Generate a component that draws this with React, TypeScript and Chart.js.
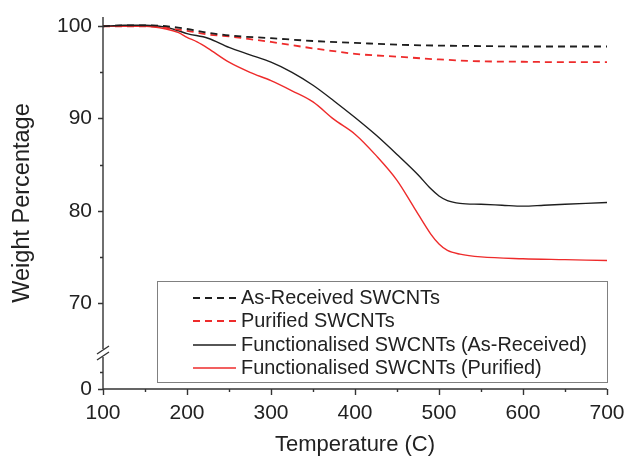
import { useEffect, useRef } from "react";
import { Chart, registerables } from "chart.js";

Chart.register(...registerables);

// ---- data (temperature in C, weight %) ----
const asReceivedT = [100, 125, 150, 175, 200, 225, 250, 300, 350, 400, 450, 500, 550, 600, 650, 700];
const asReceivedW = [100.0, 100.1, 100.1, 100.0, 99.7, 99.3, 99.0, 98.7, 98.4, 98.2, 98.0, 97.9, 97.85, 97.8, 97.8, 97.8];

const purifiedT = [100, 150, 200, 225, 250, 275, 300, 350, 375, 400, 450, 500, 550, 600, 650, 700];
const purifiedW = [100.0, 100.0, 99.5, 99.1, 98.9, 98.6, 98.3, 97.6, 97.3, 97.0, 96.7, 96.4, 96.2, 96.15, 96.1, 96.1];

const funcAsReceivedT = [100, 125, 150, 175, 190, 200, 225, 250, 275, 300, 325, 350, 375, 400, 425, 450, 475, 490, 500, 510, 525, 550, 575, 600, 625, 650, 675, 700];
const funcAsReceivedW = [100.0, 100.1, 100.1, 99.9, 99.5, 99.2, 98.7, 97.7, 96.9, 96.1, 95.0, 93.6, 91.9, 90.1, 88.2, 86.1, 83.9, 82.4, 81.6, 81.1, 80.8, 80.7, 80.6, 80.5, 80.6, 80.7, 80.8, 80.9];

const funcPurifiedT = [100, 125, 150, 175, 190, 200, 212, 225, 250, 275, 300, 325, 350, 375, 400, 425, 450, 470, 490, 500, 510, 525, 550, 600, 650, 700];
const funcPurifiedW = [100.0, 100.0, 100.0, 99.7, 99.3, 98.8, 98.3, 97.6, 96.1, 95.0, 94.1, 93.0, 91.8, 89.9, 88.3, 86.0, 83.3, 80.4, 77.5, 76.4, 75.7, 75.3, 75.0, 74.8, 74.7, 74.6];

const seriesLabels = [
  "As-Received SWCNTs",
  "Purified SWCNTs",
  "Functionalised SWCNTs (As-Received)",
  "Functionalised SWCNTs (Purified)",
];

// broken y axis: the bottom of the axis stands for 0
const Y_BOTTOM = 60.68;
const Y_TOP = 101;
const yTickValues = [Y_BOTTOM, 70, 80, 90, 100];
const yTickLabels = ["0", "70", "80", "90", "100"];
const yMinorValues = [62.5, 75, 85, 95];
const xMinorValues = [150, 250, 350, 450, 550, 650];

const BLACK = "#1e1e1e";
const RED = "#ee2b2b";
const FONT = "'Liberation Sans', Arial, sans-serif";

const pts = (t: number[], w: number[]) => t.map((x, i) => ({ x, y: w[i] }));

const decorPlugin = {
  id: "decor",
  afterDraw(chart: any) {
    const ctx = chart.ctx as CanvasRenderingContext2D;
    const { left, right, top, bottom } = chart.chartArea;
    const xs = chart.scales.x;
    const ys = chart.scales.y;
    ctx.save();
    ctx.strokeStyle = "#333";
    ctx.lineWidth = 1.4;
    const by = 353;
    ctx.beginPath();
    ctx.moveTo(left, top);
    ctx.lineTo(left, by - 4);
    ctx.moveTo(left, by + 4);
    ctx.lineTo(left, bottom);
    ctx.moveTo(left, bottom);
    ctx.lineTo(right, bottom);
    ctx.stroke();
    ctx.beginPath();
    yTickValues.forEach((v) => {
      const y = Math.round(ys.getPixelForValue(v)) + 0.5;
      ctx.moveTo(left - 5, y);
      ctx.lineTo(left, y);
    });
    yMinorValues.forEach((v) => {
      const y = Math.round(ys.getPixelForValue(v)) + 0.5;
      ctx.moveTo(left - 3, y);
      ctx.lineTo(left, y);
    });
    xs.ticks.forEach((t: any) => {
      const x = Math.round(xs.getPixelForValue(t.value)) + 0.5;
      ctx.moveTo(x, bottom);
      ctx.lineTo(x, bottom + 6);
    });
    xMinorValues.forEach((v) => {
      const x = Math.round(xs.getPixelForValue(v)) + 0.5;
      ctx.moveTo(x, bottom);
      ctx.lineTo(x, bottom + 3);
    });
    ctx.stroke();
    ctx.beginPath();
    ctx.moveTo(left - 6, by + 1);
    ctx.lineTo(left + 6, by - 7);
    ctx.moveTo(left - 6, by + 7);
    ctx.lineTo(left + 6, by - 1);
    ctx.stroke();

    const lx = 157, ly = 281, lw = right - 157, lh = 101;
    ctx.fillStyle = "#fff";
    ctx.fillRect(lx, ly, lw, lh);
    ctx.strokeStyle = "#808080";
    ctx.lineWidth = 1;
    ctx.strokeRect(lx + 0.5, ly + 0.5, lw, lh);
    const rows = [298, 321, 345, 368];
    chart.data.datasets.forEach((ds: any, i: number) => {
      const y = rows[i];
      ctx.beginPath();
      ctx.strokeStyle = ds.borderColor;
      ctx.lineWidth = ds.borderWidth;
      ctx.setLineDash(ds.borderDash || []);
      ctx.moveTo(193, y);
      ctx.lineTo(236, y);
      ctx.stroke();
      ctx.setLineDash([]);
      ctx.fillStyle = "#222";
      ctx.font = `19.9px ${FONT}`;
      ctx.textBaseline = "middle";
      ctx.textAlign = "left";
      ctx.fillText(ds.label, 241, y + 1);
    });
    ctx.restore();
  },
};

export default function App() {
  const ref = useRef<HTMLCanvasElement>(null);
  useEffect(() => {
    if (!ref.current) return;
    const chart = new Chart(ref.current, {
      type: "line",
      data: {
        datasets: [
          {
            label: seriesLabels[0],
            data: pts(asReceivedT, asReceivedW),
            borderColor: BLACK,
            borderWidth: 1.8,
            borderDash: [7, 5],
          },
          {
            label: seriesLabels[1],
            data: pts(purifiedT, purifiedW),
            borderColor: RED,
            borderWidth: 1.8,
            borderDash: [7, 5],
          },
          {
            label: seriesLabels[2],
            data: pts(funcAsReceivedT, funcAsReceivedW),
            borderColor: BLACK,
            borderWidth: 1.4,
          },
          {
            label: seriesLabels[3],
            data: pts(funcPurifiedT, funcPurifiedW),
            borderColor: RED,
            borderWidth: 1.4,
          },
        ] as any,
      },
      options: {
        animation: false,
        responsive: false,
        events: [],
        layout: { padding: { top: 17, right: 20, left: 0, bottom: 0 } },
        elements: {
          point: { radius: 0 },
          line: { cubicInterpolationMode: "monotone", fill: false },
        },
        plugins: {
          legend: { display: false },
          tooltip: { enabled: false },
        },
        scales: {
          x: {
            type: "linear",
            min: 100,
            max: 700,
            grid: { display: false, drawTicks: true, tickLength: 6 },
            border: { display: false },
            ticks: {
              stepSize: 100,
              padding: 6,
              color: "#222",
              font: { family: FONT, size: 21 },
            },
            title: {
              display: true,
              text: "Temperature (C)",
              color: "#222",
              font: { family: FONT, size: 22 },
              padding: { top: 0, bottom: 2 },
            },
            afterFit: (s: any) => {
              s.height = 71;
              s.paddingLeft = 0;
              s.paddingRight = 0;
            },
          },
          y: {
            type: "linear",
            min: Y_BOTTOM,
            max: Y_TOP,
            grid: { display: false, drawTicks: true, tickLength: 6 },
            border: { display: false },
            afterBuildTicks: (s: any) => {
              s.ticks = yTickValues.map((v) => ({ value: v }));
            },
            ticks: {
              padding: 5,
              color: "#222",
              font: { family: FONT, size: 21 },
              callback: (v: any) => {
                const i = yTickValues.indexOf(Number(v));
                return i >= 0 ? yTickLabels[i] : "";
              },
            },
            title: {
              display: true,
              text: "Weight Percentage",
              color: "#222",
              font: { family: FONT, size: 23.5 },
              padding: { top: 8, bottom: 0 },
            },
            afterFit: (s: any) => {
              s.width = 103;
              s.paddingTop = 0;
              s.paddingBottom = 0;
            },
          },
        },
      },
      plugins: [decorPlugin],
    });
    return () => chart.destroy();
  }, []);
  return (
    <div style={{ position: "fixed", left: 0, top: 0, width: 627, height: 460, background: "#fff" }}>
      <canvas ref={ref} width={627} height={460} style={{ display: "block" }} />
    </div>
  );
}
